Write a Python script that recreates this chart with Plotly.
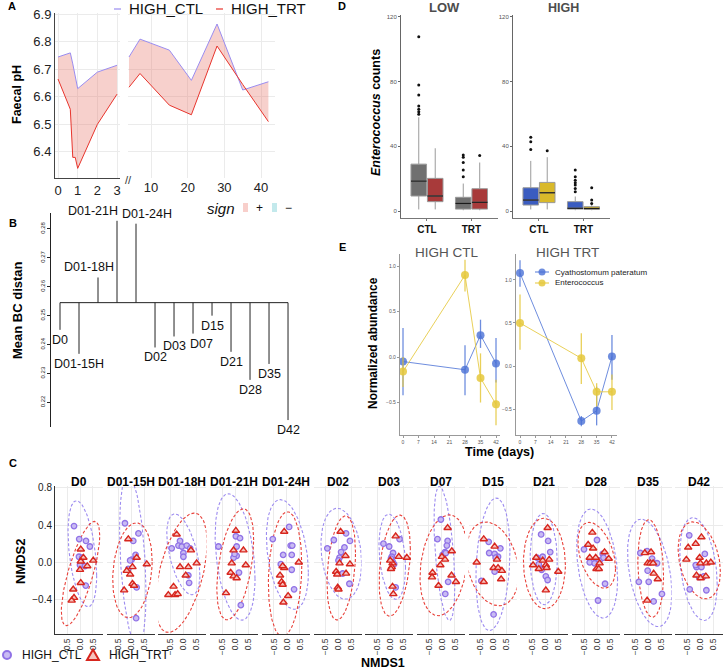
import numpy as np
import plotly.graph_objects as go

W, H = 726, 672
FONT = "Liberation Sans, Arial, sans-serif"

# ---------------- A: faecal pH ----------------
ph_days_early = [0, 0.625, 0.75, 0.875, 1, 2, 3]
ph_ctl_early = [6.745, 6.76, 6.72, 6.675, 6.63, 6.69, 6.715]
ph_trt_early = [6.665, 6.555, 6.38, 6.38, 6.34, 6.50, 6.61]
ph_days_late = [4, 7, 15, 21, 28, 35, 42]
ph_ctl_late = [6.745, 6.81, 6.77, 6.66, 6.865, 6.625, 6.655]
ph_trt_late = [6.635, 6.685, 6.57, 6.535, 6.785, 6.645, 6.51]

# ---------------- B: mean Bray-Curtis distance ----------------
bc_labels = ["D0", "D01-15H", "D01-18H", "D01-21H", "D01-24H", "D02", "D03",
             "D07", "D15", "D21", "D28", "D35", "D42"]
bc_mean = [0.2451, 0.2368, 0.2632, 0.2828, 0.2818, 0.2390, 0.2428,
           0.2438, 0.2500, 0.2375, 0.2278, 0.2333, 0.2139]
bc_overall = 0.2545
bc_label_nudge = [0, 0, -0.47, -1.26, 0.58, 0, 0, 0.47, 0.05, 0.05, 0.05, 0.05, 0]

# ---------------- D: Enterococcus counts (whisker lo, q1, median, q3, whisker hi) ----------------
box_groups = ["CTL", "TRT"]
low_grey_box = [[1, 9.3, 18.5, 29, 58], [0.5, 1.2, 4.7, 8.5, 17]]
low_red_box = [[1, 5.8, 9.3, 20.2, 38.8], [0.5, 1.2, 5.4, 13.8, 30]]
high_blue_box = [[1, 3.7, 6.8, 14.4, 31], [0.5, 1.2, 1.7, 5.8, 9]]
high_yellow_box = [[1, 5.2, 11.3, 17.7, 33.3], [0.5, 1.0, 1.6, 2.7, 4]]
low_grey_out = [[107.8, 78, 71.7, 65, 63, 61.4, 59.8], [21.2, 25.4, 30, 33.2, 34.6]]
low_red_out = [[], [34.4]]
high_blue_out = [[38.1, 42.9, 45.6], [11.9, 14, 16.1, 17.5, 19.1, 21.2, 25.4]]
high_yellow_out = [[37.3], [4.7, 6.8, 14.4]]

# ---------------- E: normalized abundance ----------------
e_days = [0, 28, 35, 42]
e_species = ["Cyathostomum pateratum", "Enterococcus"]
ctl_cya = [-0.05, -0.14, 0.24, -0.07]
ctl_cya_lo = [-0.42, -0.42, 0.10, -0.28]
ctl_cya_hi = [0.32, 0.13, 0.41, 0.21]
ctl_ent = [-0.16, 0.90, -0.23, -0.52]
ctl_ent_lo = [-0.33, 0.72, -0.50, -0.75]
ctl_ent_hi = [0.0, 1.07, 0.04, -0.25]
trt_cya = [1.08, -0.64, -0.52, 0.11]
trt_cya_lo = [0.92, -0.70, -0.69, -0.16]
trt_cya_hi = [1.23, -0.58, -0.24, 0.36]
trt_ent = [0.50, 0.09, -0.30, -0.30]
trt_ent_lo = [0.19, -0.21, -0.47, -0.51]
trt_ent_hi = [0.83, 0.38, -0.20, -0.10]

# ---------------- C: NMDS per sampling time ----------------
nmds_days = bc_labels
ctl_nmds1 = [
    [-0.23, -0.03, 0.23, 0.38, -0.04, 0.09, 0.0, 0.19, 0.22],
    [-0.26, 0.26, 0.06, 0.15, 0.0, -0.06, -0.13, 0.19, 0.17],
    [-0.13, -0.19, -0.06, 0.13, 0.26, -0.45, 0.0, 0.0, 0.19, 0.22],
    [-0.64, 0.03, 0.19, 0.06, 0.06, -0.06, 0.15, 0.22, -0.02],
    [-0.54, 0.09, 0.15, 0.21, -0.14, 0.19, -0.23, 0.19, 0.28],
    [-0.18, -0.43, 0.23, 0.29, 0.44, 0.04, 0.10, 0.0, 0.16, 0.42],
    [-0.26, -0.04, 0.36, 0.11, 0.06, 0.09, 0.15, 0.21, 0.03],
    [-0.04, -0.17, 0.22, 0.19, 0.12, 0.03, 0.24, 0.13, 0.15],
    [-0.19, -0.17, 0.04, 0.17, 0.26, 0.04, -0.47, 0.0, 0.08],
    [-0.16, 0.11, -0.32, -0.10, -0.25, 0.19, -0.14, 0.02, 0.09],
    [0.0, -0.50, -0.28, -0.09, 0.10, 0.22, 0.25, 0.31, 0.04],
    [-0.32, -0.06, 0.13, 0.32, -0.04, 0.0, -0.38, 0.51, 0.19],
    [-0.43, 0.17, -0.15, 0.04, -0.05, 0.13, 0.23, -0.41, -0.18],
]
ctl_nmds2 = [
    [0.39, 0.25, 0.23, 0.17, 0.06, 0.05, -0.03, -0.04, -0.25],
    [0.42, 0.31, 0.23, 0.08, 0.03, 0.02, -0.07, -0.27, -0.60],
    [0.23, 0.18, 0.17, 0.18, 0.15, 0.15, 0.10, 0.06, -0.14, -0.22],
    [0.17, 0.28, 0.26, 0.17, 0.07, 0.05, -0.11, -0.46, 0.09],
    [0.25, 0.38, 0.18, 0.18, 0.08, 0.08, -0.02, -0.08, -0.29],
    [0.24, 0.15, 0.16, 0.31, 0.23, 0.05, 0.11, 0.02, -0.12, -0.23],
    [0.20, 0.17, 0.25, 0.10, 0.06, 0.01, -0.02, -0.27, 0.04],
    [0.46, 0.25, 0.23, 0.18, 0.11, 0.08, -0.21, -0.34, 0.10],
    [0.22, 0.10, 0.09, 0.06, 0.15, -0.10, -0.20, -0.56, 0.05],
    [0.30, 0.23, 0.05, 0.06, -0.02, 0.11, -0.08, -0.15, -0.19],
    [0.24, 0.14, 0.0, -0.01, 0.02, 0.09, 0.05, -0.23, -0.41],
    [0.10, 0.12, 0.04, -0.01, -0.09, -0.21, -0.21, -0.34, -0.42],
    [0.29, 0.09, -0.05, -0.05, -0.16, -0.15, -0.30, -0.29, -0.03],
]
trt_nmds1 = [
    [0.03, 0.13, 0.03, 0.0, 0.28, 0.51, 0.03, -0.26, -0.23, -0.32],
    [-0.13, 0.19, 0.03, -0.19, -0.06, 0.58, 0.03, 0.09, -0.29],
    [-0.26, 0.29, 0.51, -0.13, 0.19, 0.09, -0.38, -0.58, -0.32, -0.22],
    [0.03, -0.06, 0.32, -0.13, 0.41, -0.17, -0.06, 0.06, -0.35],
    [-0.10, 0.46, -0.10, -0.26, -0.20, -0.16, 0.05, -0.13, -0.16],
    [0.08, 0.27, 0.44, 0.04, -0.09, -0.05, 0.29, -0.03, 0.0],
    [0.21, 0.33, 0.64, 0.09, 0.06, 0.03, 0.09, 0.12, 0.0],
    [0.22, 0.38, 0.0, 0.12, -0.06, 0.37, -0.36, -0.38, 0.54, -0.13],
    [-0.38, 0.04, 0.13, 0.0, 0.17, 0.32, 0.29, -0.38, -0.65],
    [0.09, -0.35, -0.10, 0.15, 0.02, -0.47, -0.25, 0.05, 0.50, 0.02],
    [-0.18, -0.34, -0.15, -0.28, -0.05, 0.29, 0.45, 0.10, -0.02, 0.07],
    [-0.15, 0.09, -0.04, 0.06, 0.17, 0.19, 0.35, -0.06],
    [0.04, -0.18, -0.47, -0.54, -0.03, 0.0, 0.23, 0.40, -0.15, 0.01, 0.21],
]
trt_nmds2 = [
    [0.14, 0.05, 0.01, -0.08, -0.04, 0.02, -0.22, -0.29, -0.38, -0.41],
    [0.25, 0.05, -0.05, -0.09, -0.13, -0.02, -0.23, -0.25, -0.30],
    [0.30, 0.13, -0.01, -0.05, -0.05, -0.14, -0.26, -0.35, -0.35, -0.34],
    [0.34, 0.13, 0.13, -0.01, -0.03, -0.11, -0.15, -0.17, -0.33],
    [0.33, 0.0, -0.06, -0.14, -0.21, -0.24, -0.36, -0.43, -0.04],
    [0.33, 0.07, -0.02, -0.01, -0.10, -0.13, -0.12, -0.27, -0.29],
    [0.28, 0.06, 0.05, -0.01, -0.05, -0.07, -0.26, -0.34, 0.02],
    [0.37, 0.12, 0.06, 0.03, -0.03, -0.14, -0.11, -0.16, -0.21, -0.25],
    [0.25, 0.17, 0.03, -0.06, -0.06, -0.09, -0.18, -0.21, 0.0],
    [0.37, 0.05, 0.02, 0.03, -0.03, -0.03, -0.07, -0.06, -0.10, -0.30],
    [0.32, 0.19, 0.15, 0.05, 0.05, 0.11, 0.04, -0.01, -0.07, -0.07],
    [0.10, 0.11, -0.01, -0.01, -0.01, -0.12, -0.18, -0.41],
    [0.27, 0.20, 0.16, 0.03, 0.05, -0.01, -0.01, 0.0, -0.14, -0.17, -0.15],
]

CTL_COL, TRT_COL = "#9a8cf0", "#e8352d"
PT_CTL_FILL, PT_CTL_LINE = "#c9bbf3", "#9072e6"
PT_TRT_FILL, PT_TRT_LINE = "#f6c3bd", "#d7261e"


def fx(px):
    return px / W


def fy(py):
    return 1 - py / H


def sfx(n):
    return "" if n == 1 else str(n)


def on(n):
    return dict(xaxis="x" + sfx(n), yaxis="y" + sfx(n), showlegend=False)


axes = {}


def add_axes(n, xpx, ypx, xr, yr, xkw=None, ykw=None):
    base = dict(showgrid=False, zeroline=False, showline=False, ticks="",
                showticklabels=False, fixedrange=True)
    xa = dict(base, domain=[fx(xpx[0]), fx(xpx[1])], range=xr, anchor="y" + sfx(n))
    ya = dict(base, domain=[fy(ypx[1]), fy(ypx[0])], range=yr, anchor="x" + sfx(n))
    xa.update(xkw or {})
    ya.update(ykw or {})
    axes["xaxis" + sfx(n)] = xa
    axes["yaxis" + sfx(n)] = ya


def tf(size, color="#222"):
    return dict(family=FONT, size=size, color=color)


notes = []


def note(text, x, y, size, color="#000", angle=0, xanchor="center"):
    notes.append(dict(text=text, x=fx(x), y=fy(y), xref="paper", yref="paper",
                      showarrow=False, font=tf(size, color), textangle=angle,
                      xanchor=xanchor, yanchor="middle"))


grid = dict(showgrid=True, gridcolor="#ebebeb", gridwidth=1)
fig = go.Figure()

# ---- A ----
add_axes(1, (55, 120), (13, 178), [-0.153, 3.15], [6.305, 6.905],
         xkw=dict(grid, tickvals=[0, 1, 2, 3], showticklabels=True, showline=True,
                  linecolor="#444", tickfont=tf(13)),
         ykw=dict(grid, tickvals=[6.4, 6.5, 6.6, 6.7, 6.8, 6.9], tickformat=".1f",
                  showticklabels=True, showline=True, linecolor="#444", tickfont=tf(13)))
add_axes(2, (128, 275), (13, 178), [3.73, 43.8], [6.305, 6.905],
         xkw=dict(grid, tickvals=[10, 20, 30, 40], showticklabels=True, tickfont=tf(13)),
         ykw=dict(grid, tickvals=[6.4, 6.5, 6.6, 6.7, 6.8, 6.9]))
for n, days, ctl, trt in [(1, ph_days_early, ph_ctl_early, ph_trt_early),
                          (2, ph_days_late, ph_ctl_late, ph_trt_late)]:
    fig.add_trace(go.Scatter(x=days, y=ctl, mode="lines", line=dict(color=CTL_COL, width=1), **on(n)))
    fig.add_trace(go.Scatter(x=days, y=trt, mode="lines", fill="tonexty",
                             fillcolor="rgba(232,120,108,0.35)",
                             line=dict(color=TRT_COL, width=1), **on(n)))

# ---- B ----
add_axes(3, (51, 300), (213, 427), [-0.474, 12.63], [0.2115, 0.2855],
         ykw=dict(showline=True, linecolor="#222", ticks="outside", ticklen=3, tickcolor="#222",
                  tickvals=[0.22, 0.23, 0.24, 0.25, 0.26, 0.27, 0.28], tickformat=".2f",
                  tickangle=-90, showticklabels=True, tickfont=tf(6)))
bx, by = [0, len(bc_labels) - 1], [bc_overall, bc_overall]
for i, v in enumerate(bc_mean):
    bx += [None, i, i]
    by += [None, bc_overall, v]
fig.add_trace(go.Scatter(x=bx, y=by, mode="lines", line=dict(color="#222", width=1), **on(3)))
for i, (lab, v) in enumerate(zip(bc_labels, bc_mean)):
    up = v > bc_overall
    notes.append(dict(text=lab, x=i + bc_label_nudge[i], y=v, xref="x3", yref="y3",
                      showarrow=False, font=tf(12.5, "#111"), xanchor="center",
                      yanchor="bottom" if up else "top", yshift=1 if up else -1))

# ---- D ----
box_w = 0.35
d_sets = [
    (4, (401, 498), [(low_grey_box, low_grey_out, "#707070"), (low_red_box, low_red_out, "#a83a3a")]),
    (5, (513, 610), [(high_blue_box, high_blue_out, "#3a5cc0"), (high_yellow_box, high_yellow_out, "#d9b92a")]),
]
for n, xpx, series in d_sets:
    add_axes(n, xpx, (15, 218), [-0.584, 1.596], [-4.3, 121.2],
             xkw=dict(showline=True, linecolor="#777", ticks="outside", ticklen=2, tickcolor="#777",
                      tickvals=[0, 1], ticktext=["<b>%s</b>" % g for g in box_groups],
                      showticklabels=True, tickfont=tf(10, "#111")),
             ykw=dict(showline=True, linecolor="#666", ticks="outside", ticklen=2, tickcolor="#666",
                      tickvals=[0, 40, 80, 120], showticklabels=True, tickfont=tf(6, "#555")))
    for k, (stats, outs, col) in enumerate(series):
        off = -0.185 if k == 0 else 0.185
        pos = [g + off for g in range(len(box_groups))]
        fig.add_trace(go.Box(x=pos, lowerfence=[s[0] for s in stats], q1=[s[1] for s in stats],
                             median=[s[2] for s in stats], q3=[s[3] for s in stats],
                             upperfence=[s[4] for s in stats], width=box_w, whiskerwidth=0,
                             fillcolor=col, line=dict(color="#9a9a9a", width=1),
                             boxpoints=False, **on(n)))
        mx, my = [], []
        for p, s in zip(pos, stats):
            mx += [p - box_w / 2, p + box_w / 2, None]
            my += [s[2], s[2], None]
        fig.add_trace(go.Scatter(x=mx, y=my, mode="lines", line=dict(color="#1a1a1a", width=1.2), **on(n)))
        ox, oy = [], []
        for p, o in zip(pos, outs):
            ox += [p] * len(o)
            oy += o
        fig.add_trace(go.Scatter(x=ox, y=oy, mode="markers",
                                 marker=dict(size=3, color="#111"), **on(n)))

# ---- E ----
E_COLS = ["rgba(74,112,214,0.8)", "rgba(229,200,60,0.85)"]
e_sets = [
    (6, (400, 500), [-1.36, 43.8], [-0.857, 1.132],
     [(ctl_cya, ctl_cya_lo, ctl_cya_hi), (ctl_ent, ctl_ent_lo, ctl_ent_hi)]),
    (7, (516, 617), [-1.83, 44.3], [-0.802, 1.302],
     [(trt_cya, trt_cya_lo, trt_cya_hi), (trt_ent, trt_ent_lo, trt_ent_hi)]),
]
for n, xpx, xr, yr, series in e_sets:
    add_axes(n, xpx, (254, 435), xr, yr,
             xkw=dict(showline=True, linecolor="#999", linewidth=1.3, ticks="outside", ticklen=2,
                      tickcolor="#999", tickvals=[0, 7, 14, 21, 28, 35, 42],
                      showticklabels=True, tickfont=tf(5, "#555")),
             ykw=dict(showline=True, linecolor="#999", linewidth=1.3, ticks="outside", ticklen=2,
                      tickcolor="#999", tickvals=[-0.5, 0, 0.5, 1.0], tickformat=".1f",
                      showticklabels=True, tickfont=tf(5, "#555")))
    for (y, lo, hi), col in zip(series, E_COLS):
        y, lo, hi = np.array(y), np.array(lo), np.array(hi)
        fig.add_trace(go.Scatter(x=e_days, y=y, mode="lines+markers",
                                 marker=dict(size=8, color=col), line=dict(color=col, width=1),
                                 error_y=dict(type="data", symmetric=False, array=hi - y,
                                              arrayminus=y - lo, color=col, thickness=1.3, width=0),
                                 **on(n)))

# ---- C ----


def ellipse(xs, ys, level=0.95, npts=90):
    pts = np.column_stack([xs, ys])
    d2 = len(pts) - 1
    qf = d2 / 2 * ((1 - level) ** (-2 / d2) - 1)
    radius = np.sqrt(2 * qf)
    chol = np.linalg.cholesky(np.cov(pts, rowvar=False))
    t = np.linspace(0, 2 * np.pi, npts)
    unit = np.column_stack([np.cos(t), np.sin(t)])
    e = pts.mean(axis=0) + radius * unit @ chol.T
    return e[:, 0], e[:, 1]


for i, day in enumerate(nmds_days):
    n = 8 + i
    x0 = 55 + 51.7 * i
    first = i == 0
    add_axes(n, (x0, x0 + 48), (486, 634), [-0.962, 0.885], [-0.77, 0.82],
             xkw=dict(grid, tickvals=[-0.5, 0, 0.5], tickformat=".1f", tickangle=-90,
                      showticklabels=True, showline=True, linecolor="#333", tickfont=tf(8.5, "#333")),
             ykw=dict(grid, tickvals=[-0.4, 0, 0.4, 0.8], tickformat=".1f",
                      showticklabels=first, showline=first, linecolor="#333", tickfont=tf(10, "#222")))
    for xs, ys, col in [(ctl_nmds1[i], ctl_nmds2[i], "#9d8cf0"), (trt_nmds1[i], trt_nmds2[i], "#e8413a")]:
        ex, ey = ellipse(xs, ys)
        fig.add_trace(go.Scatter(x=ex, y=ey, mode="lines",
                                 line=dict(color=col, width=1.1, dash="3px,2px"), **on(n)))
    fig.add_trace(go.Scatter(x=ctl_nmds1[i], y=ctl_nmds2[i], mode="markers", name="HIGH_CTL",
                             marker=dict(symbol="circle", size=5.5, color=PT_CTL_FILL,
                                         line=dict(color=PT_CTL_LINE, width=1.3)), **on(n)))
    fig.add_trace(go.Scatter(x=trt_nmds1[i], y=trt_nmds2[i], mode="markers", name="HIGH_TRT",
                             marker=dict(symbol="triangle-up", size=6.5, color=PT_TRT_FILL,
                                         line=dict(color=PT_TRT_LINE, width=1.4)), **on(n)))
    note("<b>%s</b>" % day, x0 + 24, 482, 12)

# ---- text, legends ----
for letter, x, y in [("A", 12, 6), ("B", 13, 223), ("C", 13, 463), ("D", 342, 6), ("E", 342, 247)]:
    note("<b>%s</b>" % letter, x, y, 11)
note("<b>Faecal pH</b>", 17, 95, 12.5, angle=-90)
note("//", 128, 180, 11, "#333")
note("<b>Mean BC distan</b>", 17, 310, 13, angle=-90)
note("<b><i>Enterococcus</i> counts</b>", 376, 113, 12.5, angle=-90)
note("<b>LOW</b>", 444, 8, 13, "#4d4d4d")
note("<b>HIGH</b>", 563, 8, 12.5, "#4d4d4d")
note("HIGH CTL", 447, 252, 13.5, "#555")
note("HIGH TRT", 567, 252, 13.5, "#555")
note("<b>Normalized abundance</b>", 373, 343, 12, angle=-90)
note("<b>Time (days)</b>", 499, 452, 12.5)
note("<b>NMDS2</b>", 20, 561, 13, angle=-90)
note("<b>NMDS1</b>", 383, 663, 12.5)

shapes = []
# A legend keys
for name, col, lx in [("HIGH_CTL", CTL_COL, 114), ("HIGH_TRT", TRT_COL, 216)]:
    shapes.append(dict(type="line", xref="paper", yref="paper", x0=fx(lx), x1=fx(lx + 7),
                       y0=fy(9), y1=fy(9), line=dict(color=col, width=1.2)))
    note(name, lx + 13, 9, 15, "#111", xanchor="left")
# sign legend keys
note("<i>sign</i>", 221, 208, 15, "#111")
for col, sx, sym in [("#f8cfcb", 243, "+"), ("#c3e9ec", 272, "\u2212")]:
    shapes.append(dict(type="rect", xref="paper", yref="paper", x0=fx(sx), x1=fx(sx + 5),
                       y0=fy(212), y1=fy(203), fillcolor=col, line=dict(width=0)))
    note(sym, sx + 16, 208, 12, "#111")
# E legend keys
for k, (name, col) in enumerate(zip(e_species, E_COLS)):
    yc = 272 + 11 * k
    shapes.append(dict(type="line", xref="paper", yref="paper", x0=fx(535), x1=fx(549),
                       y0=fy(yc), y1=fy(yc), line=dict(color=col, width=1.2)))
    shapes.append(dict(type="circle", xref="paper", yref="paper", x0=fx(538.5), x1=fx(545.5),
                       y0=fy(yc + 3.5), y1=fy(yc - 3.5), fillcolor=col, line=dict(width=0)))
    note(name, 553, yc, 8, "#222", xanchor="left")
# C legend keys
shapes.append(dict(type="circle", xref="paper", yref="paper", x0=fx(3), x1=fx(11),
                   y0=fy(659), y1=fy(651), fillcolor=PT_CTL_FILL,
                   line=dict(color=PT_CTL_LINE, width=2)))
note("HIGH_CTL", 20, 655, 12, "#111", xanchor="left")
tri = "M %f,%f L %f,%f L %f,%f Z" % (fx(87), fy(660), fx(99), fy(660), fx(93), fy(649.5))
shapes.append(dict(type="path", xref="paper", yref="paper", path=tri, fillcolor=PT_TRT_FILL,
                   line=dict(color=PT_TRT_LINE, width=2)))
note("HIGH_TRT", 107, 655, 12, "#111", xanchor="left")

fig.update_layout(
    width=W, height=H, autosize=False,
    margin=dict(l=0, r=0, t=0, b=0, autoexpand=False),
    paper_bgcolor="white", plot_bgcolor="white",
    font=dict(family=FONT), showlegend=False,
    annotations=notes, shapes=shapes,
    **axes,
)
# drop the browser's default 8px body margin so the figure sits at the page origin
fig.write_html("out.html", config={"displayModeBar": False},
               post_script="document.body.style.margin='0px';")
